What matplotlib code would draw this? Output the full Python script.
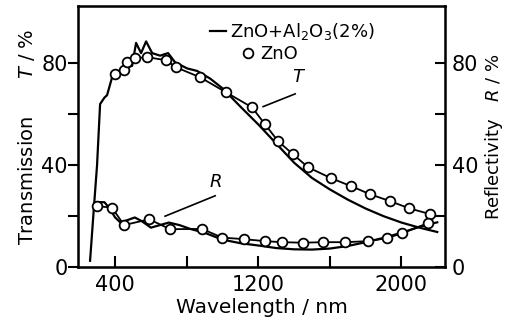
import matplotlib
matplotlib.use("Agg")
from matplotlib import pyplot as plt
from matplotlib.lines import Line2D

# ZnO + Al2O3 (2%) film, transmission T (solid line)
wl_t_al = [260, 280, 299, 316, 340, 355, 383, 411, 445, 495, 517, 545, 573, 607, 651,
           696, 735, 802, 858, 931, 1003, 1100, 1200, 1300, 1400, 1500, 1600, 1700,
           1800, 1900, 2000, 2100, 2200]
t_al = [2.5, 22, 40, 64, 66.5, 67.5, 74.5, 76.5, 78, 79, 88, 84, 88.6, 84, 83,
        84, 80.4, 78, 77, 74, 70, 63, 56, 48.5, 41, 35, 30.5, 26.5,
        23, 20, 17.5, 15.5, 13.8]

# ZnO + Al2O3 (2%) film, reflectivity R (solid line)
wl_r_al = [290, 310, 340, 370, 400, 430, 470, 510, 550, 600, 650, 700, 760, 820, 900,
           1000, 1100, 1200, 1300, 1400, 1500, 1600, 1700, 1800, 1900, 2000, 2100, 2200]
r_al = [23, 25.5, 25.5, 23, 19.5, 17.5, 18.5, 19.5, 18, 15.5, 16.5, 17.5, 16.5, 15, 13.5,
        10.8, 9.4, 8.5, 7.5, 7, 6.9, 7.3, 8.3, 9.8, 11.5, 13.5, 15.8, 17.6]

# pure ZnO film, transmission (circles)
wl_t_zno = [400, 450, 467, 512, 579, 685, 741, 875, 1020, 1165, 1238, 1311, 1394, 1478,
            1607, 1718, 1825, 1936, 2043, 2160]
t_zno = [75.7, 77.3, 80.4, 82, 82.4, 81.2, 78.4, 74.5, 68.6, 62.7, 56, 49.4, 44.3, 39.2,
         34.9, 31.8, 28.6, 25.9, 23.1, 20.8]

# pure ZnO film, reflectivity (circles)
wl_r_zno = [299, 383, 450, 590, 707, 886, 998, 1118, 1238, 1333, 1450, 1562, 1685, 1813,
            1920, 2003, 2149]
r_zno = [24, 23.3, 16.5, 18.8, 14.9, 15, 11.6, 11, 10.2, 9.8, 9.6, 9.8, 9.8, 10.2,
         11.4, 13.3, 17.3]

fig = plt.figure(figsize=(5.07, 3.27), dpi=100)
ax = fig.add_axes([0.154, 0.183, 0.724, 0.798])

circ = dict(color='black', ms=7, mfc='white', mew=1.3)

ax.plot(wl_t_al, t_al, color='black', lw=1.6)
ax.plot(wl_r_al, r_al, color='black', lw=1.6)
ax.plot(wl_t_zno, t_zno, '-o', lw=1.3, **circ)
ax.plot(wl_r_zno, r_zno, '-o', lw=1.3, **circ)

ax.set_xlim(193, 2244)
ax.set_ylim(0, 102.4)

ax.set_xticks([400, 1200, 2000])
ax.set_xticks([800, 1600], minor=True)
ax.set_yticks([0, 40, 80])
ax.set_yticks([20, 60], minor=True)
ax.tick_params(axis='x', which='both', direction='in', length=8, width=1.5, labelsize=15, pad=6, top=False)
ax.tick_params(axis='y', which='both', direction='out', length=7, width=1.5, labelsize=15, pad=0.5)
for s in ax.spines.values():
    s.set_linewidth(1.8)

ax.set_xlabel('Wavelength / nm', fontsize=14.5, labelpad=2)
ax.set_ylabel('Transmission      $T$ / %', fontsize=14, labelpad=3)

# right axis for reflectivity, same scale
ax2 = ax.twinx()
ax2.set_ylim(0, 102.4)
ax2.set_yticks([0, 40, 80])
ax2.set_yticks([20, 60], minor=True)
ax2.tick_params(axis='y', which='both', direction='in', length=7, width=1.5, labelsize=15, pad=5)
ax2.set_ylabel('Reflectivity   $R$ / %', fontsize=13, labelpad=3)

# curve labels
ax.plot([1227, 1406], [63, 68], color='black', lw=1.2)
ax.text(1420, 71, 'T', fontsize=13, style='italic', ha='center', va='bottom')
ax.plot([679, 959], [20, 28], color='black', lw=1.2)
ax.text(960, 30, 'R', fontsize=13, style='italic', ha='center', va='bottom')

# legend: two rows, second one indented like the original
leg_kw = dict(loc='upper left', frameon=False, fontsize=13, handlelength=0.9,
              handletextpad=0.2, borderaxespad=0, borderpad=0)
leg1 = ax2.legend([Line2D([], [], color='black', lw=1.6)], ['ZnO+Al$_2$O$_3$(2%)'],
                  bbox_to_anchor=(0.36, 0.9425), **leg_kw)
ax2.add_artist(leg1)
ax2.legend([Line2D([], [], marker='o', ls='none', **circ)], ['ZnO'],
           bbox_to_anchor=(0.441, 0.8506), **leg_kw)

plt.savefig('out.png', dpi=100)
